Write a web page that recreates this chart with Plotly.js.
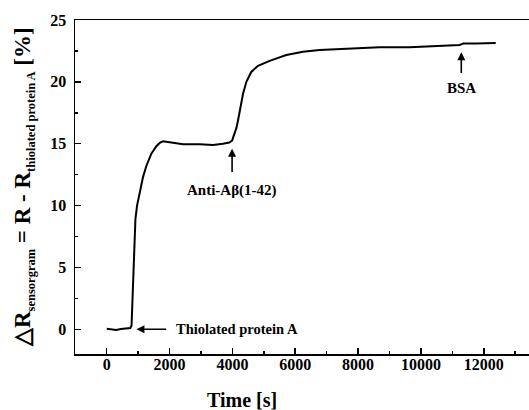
<!DOCTYPE html>
<html>
<head>
<meta charset="utf-8">
<script src="https://cdn.plot.ly/plotly-3.0.1.min.js"></script>
<style>html,body{margin:0;padding:0;background:#fff;}#chart{width:529px;height:410px;}</style>
</head>
<body>
<div id="chart"></div>
<script>
// Time [s]
const timeS = [0, 150, 300, 450, 600, 750, 790, 805, 820, 838, 870, 913, 965, 1050, 1155, 1260, 1420, 1580, 1700, 1790, 2050, 2430, 2960, 3380, 3700, 3900, 3990, 4070, 4130, 4180, 4250, 4340, 4445, 4600, 4815, 5185, 5715, 6245, 6775, 7835, 8685, 9640, 10700, 11230, 11300, 11350, 11760, 12380];
// ΔR sensorgram [%]
const deltaR = [0.05, 0.0, -0.05, 0.02, 0.08, 0.1, 0.3, 1.5, 3.0, 4.6, 7.0, 8.9, 10.0, 11.1, 12.3, 13.2, 14.2, 14.8, 15.1, 15.2, 15.1, 14.95, 14.95, 14.9, 15.0, 15.1, 15.25, 15.8, 16.3, 16.9, 18.0, 19.05, 20.0, 20.8, 21.3, 21.7, 22.17, 22.43, 22.57, 22.7, 22.79, 22.8, 22.9, 22.98, 23.05, 23.1, 23.1, 23.14];

// Event labels, injection times and arrow-head values
const eventLabels = ["Thiolated protein A", "Anti-Aβ(1-42)", "BSA"];
const eventTimes = [945, 3990, 11285];
const eventValues = [0, 14.6, 22.4];

const xTickVals = [0, 2000, 4000, 6000, 8000, 10000, 12000];
const yTickVals = [0, 5, 10, 15, 20, 25];

const FONT = "Liberation Serif";

const trace = {
  x: timeS, y: deltaR, type: 'scatter', mode: 'lines',
  line: {color: '#000', width: 2, shape: 'linear'},
  hoverinfo: 'skip'
};

const annotations = [
  {x: eventTimes[0], y: eventValues[0], xref: 'x', yref: 'y', axref: 'x', ayref: 'y',
   ax: 1940, ay: eventValues[0], text: '', showarrow: true, arrowhead: 2, arrowsize: 1, arrowwidth: 1.6, arrowcolor: '#000'},
  {x: 2130, y: eventValues[0], xref: 'x', yref: 'y', text: '<b>' + eventLabels[0] + '</b>', showarrow: false,
   xanchor: 'left', yanchor: 'middle', font: {family: FONT, size: 14.5, color: '#000'}},
  {x: eventTimes[1], y: eventValues[1], xref: 'x', yref: 'y', axref: 'x', ayref: 'y',
   ax: eventTimes[1], ay: 12.6, text: '', showarrow: true, arrowhead: 2, arrowsize: 1, arrowwidth: 1.6, arrowcolor: '#000'},
  {x: eventTimes[1], y: 11.2, xref: 'x', yref: 'y', text: '<b>' + eventLabels[1] + '</b>', showarrow: false,
   xanchor: 'center', yanchor: 'middle', font: {family: FONT, size: 15, color: '#000'}},
  {x: eventTimes[2], y: eventValues[2], xref: 'x', yref: 'y', axref: 'x', ayref: 'y',
   ax: eventTimes[2], ay: 20.6, text: '', showarrow: true, arrowhead: 2, arrowsize: 1, arrowwidth: 1.6, arrowcolor: '#000'},
  {x: eventTimes[2], y: 19.5, xref: 'x', yref: 'y', text: '<b>' + eventLabels[2] + '</b>', showarrow: false,
   xanchor: 'center', yanchor: 'middle', font: {family: FONT, size: 15, color: '#000'}},
  {x: 0.367, y: -0.137, xref: 'paper', yref: 'paper', text: '<b>Time [s]</b>', showarrow: false,
   xanchor: 'center', yanchor: 'middle', font: {family: FONT, size: 20, color: '#000'}},
  {x: -0.1123, y: 0.5, xref: 'paper', yref: 'paper', textangle: -90, showarrow: false,
   xanchor: 'center', yanchor: 'middle',
   text: '<b>△R<sub><span style="font-size:12.5px">sensorgram</span></sub> = R - R<sub><span style="font-size:12.5px">thiolated protein A</span></sub> [%]</b>',
   font: {family: FONT, size: 23, color: '#000'}}
];

const axisCommon = {
  showgrid: false, zeroline: false, showline: true, linecolor: '#000', linewidth: 1.5,
  ticks: 'inside', ticklen: 6, tickwidth: 1.5, tickcolor: '#000',
  tickfont: {family: FONT, size: 16, color: '#000', weight: 'bold'}
};

const layout = {
  width: 529, height: 410,
  margin: {l: 75, r: 0, t: 20, b: 56, pad: 0},
  paper_bgcolor: '#fff', plot_bgcolor: '#fff',
  showlegend: false,
  font: {family: FONT, color: '#000'},
  xaxis: Object.assign({}, axisCommon, {
    range: [-1010, 13440], tickvals: xTickVals, ticktext: xTickVals.map(v => '<b>' + v + '</b>'),
    mirror: true, ticklabelstandoff: -5,
    minor: {dtick: 1000, tick0: 0, ticks: 'inside', ticklen: 3, tickwidth: 1.5, tickcolor: '#000', showgrid: false}
  }),
  yaxis: Object.assign({}, axisCommon, {
    range: [-2, 25], tickvals: yTickVals, ticktext: yTickVals.map(v => '<b>' + v + '</b>'),
    ticklabelstandoff: 4,
    minor: {dtick: 2.5, tick0: 0, ticks: 'inside', ticklen: 3, tickwidth: 1.5, tickcolor: '#000', showgrid: false}
  }),
  annotations: annotations
};

Plotly.newPlot('chart', [trace], layout, {displayModeBar: false, staticPlot: true});
</script>
</body>
</html>
